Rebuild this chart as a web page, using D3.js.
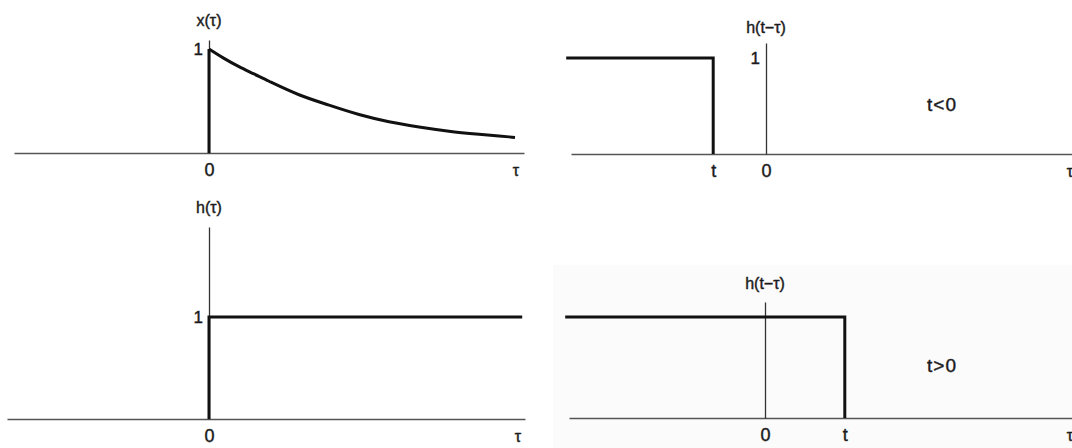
<!DOCTYPE html>
<html>
<head>
<meta charset="utf-8">
<script src="https://cdn.jsdelivr.net/npm/d3@7"></script>
<style>
  html, body { margin: 0; padding: 0; background: #fff; }
  svg text { font-family: "Liberation Sans", Arial, sans-serif; fill: #1a1a1a; stroke: #1a1a1a; stroke-width: 0.4px; }
</style>
</head>
<body>
<div id="chart"></div>
<script>
// x(τ): decaying exponential
const tauX = [0, 0.25, 0.5, 0.75, 1, 1.5, 2, 2.5, 3, 3.5, 4, 4.5, 5, 5.1];
const xVals = [1, 0.91, 0.83, 0.76, 0.69, 0.56, 0.46, 0.37, 0.30, 0.25, 0.21, 0.18, 0.155, 0.15];

// h(τ): unit step
const stepTau = [0, 0, 5.22];
const stepVals = [0, 1, 1];

// h(t-τ): flipped step ending at t
const tNeg = -0.88;
const tPos = 1.33;
const pulseStart = -3.33;

// text
const axisLabels = ["x(τ)", "h(τ)", "h(t−τ)", "h(t−τ)"];
const cases = ["t<0", "t>0"];

const width = 1072;
const height = 448;
const unit = 60;

const svg = d3.select("#chart").append("svg")
    .attr("width", width)
    .attr("height", height);

// faint scan shading in the lower right
svg.append("rect")
    .attr("x", 553).attr("y", 265)
    .attr("width", width - 553).attr("height", height - 265)
    .attr("fill", "#fbfbfb");

const panels = [
    { ox: 209, axisY: 153, unitY: 104, left: 14, right: 524, top: 40, labelY: 26, tauX: 516,
      label: axisLabels[0], ticks: [[0, "0"]],
      jump: [[0, 0], [0, 1]],
      data: tauX.map((t, i) => [t, xVals[i]]), curve: d3.curveMonotoneX },
    { ox: 209, axisY: 419, unitY: 102, left: 7, right: 525, top: 227, labelY: 213, tauX: 518,
      label: axisLabels[1], ticks: [[0, "0"]],
      data: stepTau.map((t, i) => [t, stepVals[i]]), curve: d3.curveLinear },
    { ox: 766, axisY: 154, unitY: 96, left: 571, right: 1072, top: 43, labelY: 33, tauX: 1070,
      label: axisLabels[2], ticks: [[tNeg, "t"], [0, "0"]], note: cases[0], noteY: 111,
      data: [[pulseStart, 1], [tNeg, 1], [tNeg, 0]], curve: d3.curveLinear },
    { ox: 765, axisY: 418, unitY: 101, left: 569, right: 1072, top: 302, labelY: 289, tauX: 1070,
      label: axisLabels[3], ticks: [[0, "0"], [tPos, "t"]], note: cases[1], noteY: 372,
      data: [[pulseStart, 1], [tPos, 1], [tPos, 0]], curve: d3.curveLinear, oneHidden: true }
];

panels.forEach(p => {
    const x = d3.scaleLinear()
        .domain([(p.left - p.ox) / unit, (p.right - p.ox) / unit])
        .range([p.left, p.right]);
    const y = d3.scaleLinear()
        .domain([0, (p.axisY - p.top) / p.unitY])
        .range([p.axisY, p.top]);

    const g = svg.append("g");

    // horizontal axis with tick labels
    const xAxis = g.append("g")
        .attr("transform", `translate(0,${p.axisY})`)
        .call(d3.axisBottom(x)
            .tickValues(p.ticks.map(d => d[0]))
            .tickFormat((d, i) => p.ticks[i][1])
            .tickSize(0).tickSizeOuter(0).tickPadding(10));
    xAxis.select(".domain").attr("stroke", "#555").attr("stroke-width", 1.6);
    xAxis.selectAll("text")
        .attr("font-size", 18)
        .attr("font-family", "Liberation Sans, Arial, sans-serif")
        .attr("fill", "#1a1a1a");

    // vertical axis at τ = 0
    const yAxis = g.append("g")
        .attr("transform", `translate(${x(0)},0)`)
        .call(d3.axisLeft(y)
            .tickValues(p.oneHidden ? [] : [1])
            .tickFormat(() => "1")
            .tickSize(0).tickSizeOuter(0).tickPadding(6));
    yAxis.select(".domain").attr("stroke", "#333").attr("stroke-width", 1.3);
    yAxis.selectAll("text")
        .attr("font-size", 17)
        .attr("font-family", "Liberation Sans, Arial, sans-serif")
        .attr("fill", "#1a1a1a");

    // signal
    const line = d3.line()
        .x(d => x(d[0]))
        .y(d => y(d[1]))
        .curve(p.curve);

    if (p.jump) {
        g.append("path")
            .datum(p.jump)
            .attr("fill", "none")
            .attr("stroke", "#111")
            .attr("stroke-width", 3)
            .attr("d", d3.line().x(d => x(d[0])).y(d => y(d[1])));
    }

    g.append("path")
        .datum(p.data)
        .attr("fill", "none")
        .attr("stroke", "#111")
        .attr("stroke-width", 3)
        .attr("stroke-linejoin", "miter")
        .attr("d", line);

    // function label above the vertical axis
    g.append("text")
        .attr("x", x(0))
        .attr("y", p.labelY)
        .attr("text-anchor", "middle")
        .attr("font-size", 16)
        .text(p.label);

    // τ at the end of the axis
    g.append("text")
        .attr("x", p.tauX)
        .attr("y", p.axisY + 23)
        .attr("text-anchor", "middle")
        .attr("font-size", 16)
        .text("τ");

    if (p.note) {
        g.append("text")
            .attr("x", 942)
            .attr("y", p.noteY)
            .attr("text-anchor", "middle")
            .attr("font-size", 19)
            .attr("letter-spacing", 1)
            .text(p.note);
    }
});
</script>
</body>
</html>
